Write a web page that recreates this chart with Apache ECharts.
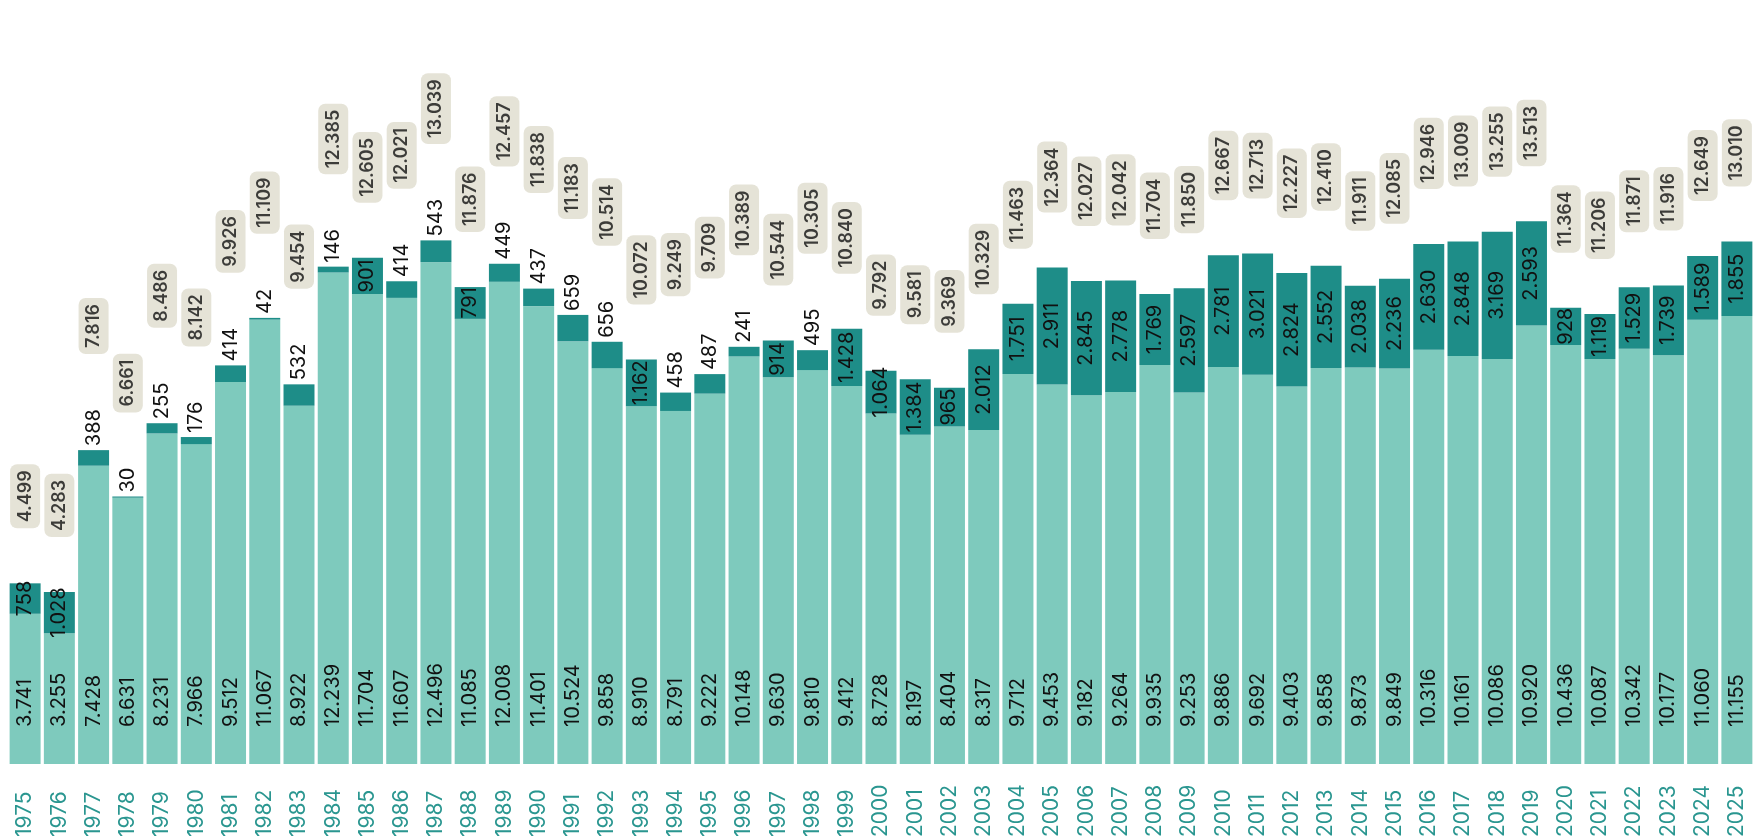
<!DOCTYPE html>
<html>
<head>
<meta charset="utf-8">
<script src="https://cdn.jsdelivr.net/npm/echarts@6/dist/echarts.min.js"></script>
<style>
  html, body { margin: 0; padding: 0; background: #fff; }
  #main { width: 1761px; height: 840px; }
</style>
</head>
<body>
<div id="main"></div>
<script>
var years = ['1975','1976','1977','1978','1979','1980','1981','1982','1983','1984',
  '1985','1986','1987','1988','1989','1990','1991','1992','1993','1994',
  '1995','1996','1997','1998','1999','2000','2001','2002','2003','2004',
  '2005','2006','2007','2008','2009','2010','2011','2012','2013','2014',
  '2015','2016','2017','2018','2019','2020','2021','2022','2023','2024','2025'];

// lower (light) part of each bar
var baseValues = [3741,3255,7428,6631,8231,7966,9512,11067,8922,12239,
  11704,11607,12496,11085,12008,11401,10524,9858,8910,8791,
  9222,10148,9630,9810,9412,8728,8197,8404,8317,9712,
  9453,9182,9264,9935,9253,9886,9692,9403,9858,9873,
  9849,10316,10161,10086,10920,10436,10087,10342,10177,11060,11155];

// upper (dark) part
var topValues = [758,1028,388,30,255,176,414,42,532,146,
  901,414,543,791,449,437,659,656,1162,458,
  487,241,914,495,1428,1064,1384,965,2012,1751,
  2911,2845,2778,1769,2597,2781,3021,2824,2552,2038,
  2236,2630,2848,3169,2593,928,1119,1529,1739,1589,1855];

// totals as printed in the boxes
var totals = [4499,4283,7816,6661,8486,8142,9926,11109,9454,12385,
  12605,12021,13039,11876,12457,11838,11183,10514,10072,9249,
  9709,10389,10544,10305,10840,9792,9581,9369,10329,11463,
  12364,12027,12042,11704,11850,12667,12713,12227,12410,11911,
  12085,12946,13009,13255,13513,11364,11206,11871,11916,12649,13010];

var FONT = 'Inter, "Noto Sans", sans-serif';
var LIGHT = '#7ecabd';
var DARK = '#1e8d88';
var BOX = '#dfdccd';
var YEAR_COLOR = '#2a9690';
var LABEL_SIZE = 20;

var Y_MAX = 19000;
var GRID_TOP = 1, GRID_BOTTOM = 71;
var pxPerUnit = (840 - GRID_TOP - GRID_BOTTOM) / Y_MAX;

function fmt(v) {
  return String(v).replace(/\B(?=(\d{3})+(?!\d))/g, '.');
}

var ctx = document.createElement('canvas').getContext('2d');
ctx.font = LABEL_SIZE + 'px ' + FONT;
function textWidth(s) { return ctx.measureText(s).width; }

// dark labels: centred when they (roughly) fit, otherwise above the bar
var topData = topValues.map(function (v) {
  var fits = v * pxPerUnit >= textWidth(fmt(v)) * 0.8;
  if (fits) {
    return { value: v, label: { position: 'inside', align: 'center', verticalAlign: 'middle' } };
  }
  return { value: v, label: { position: 'top', align: 'left', verticalAlign: 'middle', distance: 4 } };
});

var totalData = totals.map(function (t, i) {
  var lbl = topData[i].label;
  var extra = lbl.position === 'top' ? 4 + textWidth(fmt(topValues[i])) : 0;
  return { value: t, label: { distance: 55 + extra } };
});

var myChart = echarts.init(document.getElementById('main'));
myChart.setOption({
  backgroundColor: '#fff',
  animation: false,
  grid: { left: 8, right: 7, top: GRID_TOP, bottom: GRID_BOTTOM },
  xAxis: {
    type: 'category',
    data: years,
    axisLine: { show: false },
    axisTick: { show: false },
    axisLabel: {
      interval: 0,
      rotate: 90,
      align: 'left',
      verticalAlign: 'middle',
      margin: 73,
      color: YEAR_COLOR,
      fontFamily: FONT,
      fontSize: 21
    }
  },
  yAxis: { type: 'value', min: 0, max: Y_MAX, show: false },
  series: [
    {
      name: 'base',
      type: 'bar',
      stack: 'all',
      barCategoryGap: '9.5%',
      itemStyle: { color: LIGHT },
      label: {
        show: true,
        position: 'insideBottom',
        distance: 37,
        rotate: 90,
        align: 'left',
        verticalAlign: 'middle',
        color: '#111',
        fontFamily: FONT,
        fontSize: LABEL_SIZE,
        formatter: function (p) { return fmt(p.value); }
      },
      data: baseValues
    },
    {
      name: 'top',
      type: 'bar',
      stack: 'all',
      itemStyle: { color: DARK },
      label: {
        show: true,
        rotate: 90,
        color: '#111',
        fontFamily: FONT,
        fontSize: LABEL_SIZE,
        formatter: function (p) { return fmt(p.value); }
      },
      data: topData
    },
    {
      name: 'total',
      type: 'scatter',
      symbolSize: 0,
      silent: true,
      label: {
        show: true,
        position: 'top',
        rotate: 90,
        align: 'left',
        verticalAlign: 'middle',
        color: '#111',
        fontFamily: FONT,
        fontWeight: 600,
        fontSize: 18,
        backgroundColor: BOX,
        borderRadius: 7,
        padding: [6, 6],
        formatter: function (p) { return fmt(p.value); }
      },
      data: totalData
    }
  ]
});
</script>
</body>
</html>
